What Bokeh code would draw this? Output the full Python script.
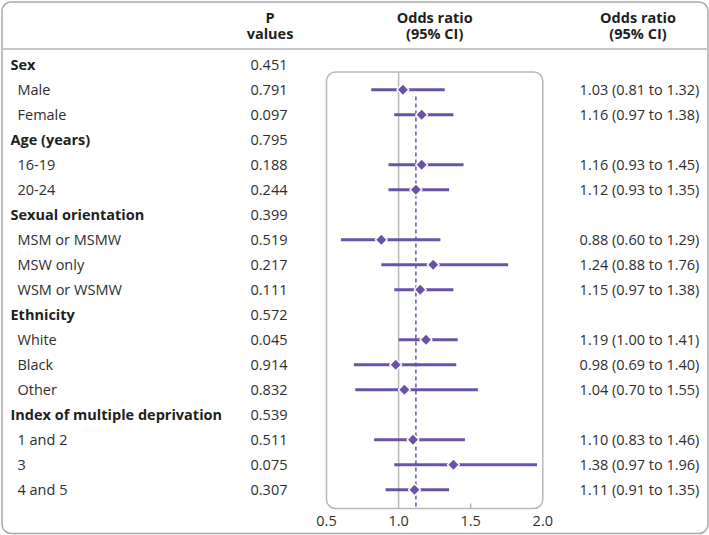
import numpy as np
from bokeh.plotting import figure
from bokeh.models import Range1d, ColumnDataSource
from bokeh.core.properties import value
from bokeh.embed import file_html
from bokeh.resources import INLINE

# ---------------- data ----------------
labels = ["Sex", "Male", "Female", "Age (years)", "16-19", "20-24",
          "Sexual orientation", "MSM or MSMW", "MSW only", "WSM or WSMW",
          "Ethnicity", "White", "Black", "Other",
          "Index of multiple deprivation", "1 and 2", "3", "4 and 5"]
is_group = [1, 0, 0, 1, 0, 0, 1, 0, 0, 0, 1, 0, 0, 0, 1, 0, 0, 0]
p_values = ["0.451", "0.791", "0.097", "0.795", "0.188", "0.244", "0.399",
            "0.519", "0.217", "0.111", "0.572", "0.045", "0.914", "0.832",
            "0.539", "0.511", "0.075", "0.307"]
sub_rows = [1, 2, 4, 5, 7, 8, 9, 11, 12, 13, 15, 16, 17]
odds = [1.03, 1.16, 1.16, 1.12, 0.88, 1.24, 1.15, 1.19, 0.98, 1.04, 1.10, 1.38, 1.11]
ci_low = [0.81, 0.97, 0.93, 0.93, 0.60, 0.88, 0.97, 1.00, 0.69, 0.70, 0.83, 0.97, 0.91]
ci_high = [1.32, 1.38, 1.45, 1.35, 1.29, 1.76, 1.38, 1.41, 1.40, 1.55, 1.46, 1.96, 1.35]
overall_or = 1.12
null_or = 1.0
tick_values = [0.5, 1.0, 1.5, 2.0]
tick_labels = ["0.5", "1.0", "1.5", "2.0"]
header_p = ["P", "values"]
header_or = ["Odds ratio", "(95% CI)"]

# ---------------- style / layout ----------------
W, H = 709, 535
FONT = "Open Sans"
FS = "14.5px"
PURPLE = "#6a53a6"
TXT = "#2e2e2e"
DARK = "#1e1e1e"
GRID = "#b8b8b8"

ROW0, ROWH = 64.3, 25.0          # reference pixel position of first row and spacing
def r(ypx):                       # reference pixel y -> row units
    return (ypx - ROW0) / ROWH

OR_L_PX, OR_R_PX = 326.0, 542.3   # panel edges (0.5 and 2.0)
scale = (OR_R_PX - OR_L_PX) / 1.5
or_lo = 0.5 - OR_L_PX / scale
or_hi = 2.0 + (709 - OR_R_PX) / scale

p = figure(width=W, height=H, output_backend="svg", toolbar_location=None,
           x_range=Range1d(0, 709), y_range=Range1d(r(535), r(0)),
           min_border=0, outline_line_color=None, tools="")
p.extra_x_ranges = {"or": Range1d(or_lo, or_hi)}
p.xaxis.visible = False
p.yaxis.visible = False
p.xgrid.visible = False
p.ygrid.visible = False
p.background_fill_color = "white"
p.border_fill_color = "white"

# outer rounded border
p.quad(left=[1.5], right=[707.5], top=[r(1.5)], bottom=[r(533)],
       fill_color=None, line_color="#a9a9a9", line_width=1.5, border_radius=9)
# header separator
p.segment(x0=[1.5], x1=[707.5], y0=[r(48.5)], y1=[r(48.5)], line_color="#c6c6c6", line_width=2)

# plot panel
panel_top, panel_bot = r(71.5), r(508)
p.quad(left=[0.5], right=[2.0], top=[panel_top], bottom=[panel_bot], x_range_name="or",
       fill_color=None, line_color=GRID, line_width=1.5, border_radius=9)
# null line
p.segment(x0=[null_or], x1=[null_or], y0=[panel_top], y1=[panel_bot], x_range_name="or",
          line_color=GRID, line_width=1.5)
# overall dashed line
p.segment(x0=[overall_or], x1=[overall_or], y0=[r(96)], y1=[panel_bot], x_range_name="or",
          line_color=PURPLE, line_width=1.5, line_dash="4 3")
# inner tick marks
inner_ticks = [t for t in tick_values if 0.5 < t < 2.0 and t != null_or]
p.segment(x0=inner_ticks, x1=inner_ticks, y0=[r(503)] * len(inner_ticks),
          y1=[panel_bot] * len(inner_ticks), x_range_name="or", line_color=GRID, line_width=1.5)
# tick labels
p.text(x=tick_values, y=[r(520)] * len(tick_values), text=tick_labels, x_range_name="or",
       text_align="center", text_baseline="middle", text_font=value(FONT),
       text_font_size=FS, text_color=TXT)

# CI lines and diamonds
src = ColumnDataSource(dict(row=sub_rows, odds=odds, lo=ci_low, hi=ci_high))
p.segment(x0="lo", x1="hi", y0="row", y1="row", source=src, x_range_name="or",
          line_color=PURPLE, line_width=3)
p.scatter(x="odds", y="row", source=src, x_range_name="or", marker="square",
          angle=np.pi / 4, size=8.5, fill_color=PURPLE, line_color="white", line_width=1.5)

# row labels
rows = list(range(len(labels)))
g_rows = [i for i in rows if is_group[i]]
s_rows = [i for i in rows if not is_group[i]]
p.text(x=[10] * len(g_rows), y=g_rows, text=[labels[i] for i in g_rows],
       text_align="left", text_baseline="middle", text_font=value(FONT),
       text_font_size=FS, text_font_style="bold", text_color=DARK)
p.text(x=[17] * len(s_rows), y=s_rows, text=[labels[i] for i in s_rows],
       text_align="left", text_baseline="middle", text_font=value(FONT),
       text_font_size=FS, text_color=TXT)
# p values
p.text(x=[268.5] * len(rows), y=rows, text=p_values, text_align="center",
       text_baseline="middle", text_font=value(FONT), text_font_size=FS, text_color=TXT)
# OR text
or_text = [f"{o:.2f} ({l:.2f} to {h:.2f})" for o, l, h in zip(odds, ci_low, ci_high)]
p.text(x=[639] * len(sub_rows), y=sub_rows, text=or_text, text_align="center",
       text_baseline="middle", text_font=value(FONT), text_font_size=FS, text_color=TXT)

# headers
hy = [r(16.8), r(33.3)]
p.text(x=[269.5] * 2, y=hy, text=header_p, text_align="center", text_baseline="middle",
       text_font=value(FONT), text_font_size=FS, text_font_style="bold", text_color=DARK)
p.text(x=[(0.5 + 2.0) / 2] * 2, y=hy, text=header_or, x_range_name="or", text_align="center",
       text_baseline="middle", text_font=value(FONT), text_font_size=FS,
       text_font_style="bold", text_color=DARK)
p.text(x=[637.5] * 2, y=hy, text=header_or, text_align="center", text_baseline="middle",
       text_font=value(FONT), text_font_size=FS, text_font_style="bold", text_color=DARK)

open("out.html", "w").write(file_html(p, INLINE))
